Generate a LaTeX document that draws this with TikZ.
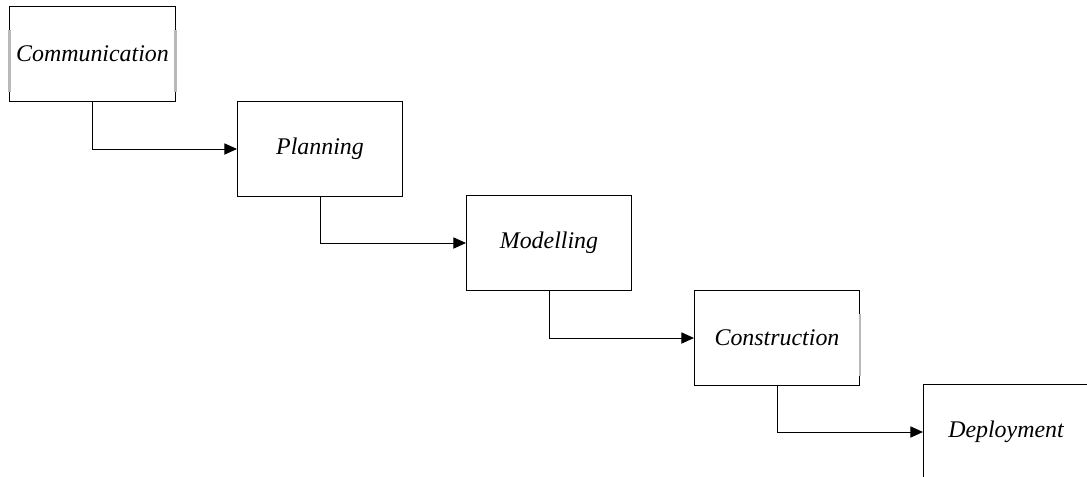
\documentclass[tikz,border=0pt]{standalone}
\usepackage{fontspec}
\setmainfont{Liberation Serif}
\usetikzlibrary{positioning, arrows.meta}

\begin{document}
\begin{tikzpicture}[
  x=0.025cm, y=-0.025cm,
  phasebox/.style={
    rectangle, draw=black, fill=white, line width=0.7pt,
    minimum width=4.125cm, minimum height=2.375cm,
    font=\fontsize{17}{20}\selectfont\itshape, inner sep=2pt
  },
  flow/.style={-{Triangle[length=9pt, width=8pt]}, line width=0.7pt},
  edgemark/.style={gray!55, line width=1.6pt},
]
\useasboundingbox (0,0) rectangle (1087,476);

%% -- Phase boxes --
\node[phasebox] (comm) at (92.5, 53.5) {Communication};
\node[phasebox] (plan) at (320, 149)   {Planning};
\node[phasebox] (model) at (549, 243)  {Modelling};
\node[phasebox] (constr) at (777, 338) {Construction};
\node[phasebox] (deploy) at (1006, 432) {Deployment};

%% -- Grey edge marks --
\draw[edgemark] ([yshift=-0.6cm]comm.north west) -- ([yshift=0.25cm]comm.south west);
\draw[edgemark] ([yshift=-0.6cm]comm.north east) -- ([yshift=0.25cm]comm.south east);
\draw[edgemark] ([yshift=-0.6cm]constr.north east) -- ([yshift=0.25cm]constr.south east);

%% -- Flow arrows --
\draw[flow] (comm.south)   |- (plan.west);
\draw[flow] (plan.south)   |- (model.west);
\draw[flow] (model.south)  |- (constr.west);
\draw[flow] (constr.south) |- (deploy.west);

\end{tikzpicture}
\end{document}
